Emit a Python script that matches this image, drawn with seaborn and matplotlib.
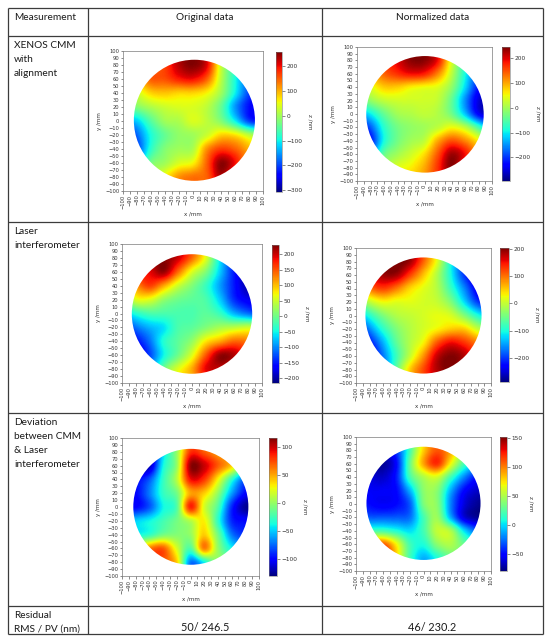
import numpy as np
import matplotlib
matplotlib.use("Agg")
import matplotlib.pyplot as plt
import seaborn as sns
from matplotlib.patches import Circle

# ---------------- data (nm), sampled on a 20 mm grid ----------------
grid_x = [-100, -80, -60, -40, -20, 0, 20, 40, 60, 80, 100]
grid_y = [100, 80, 60, 40, 20, 0, -20, -40, -60, -80, -100]

xenos_original = [
    [50, 100, 150, 180, 230, 250, 200, 30, -80, -150, -200],
    [50, 80, 130, 170, 230, 255, 210, 30, -80, -150, -200],
    [20, 80, 150, 160, 190, 200, 150, 20, -90, -180, -220],
    [-20, 30, 80, 90, 80, 80, 60, 0, -100, -200, -250],
    [-60, -20, 10, 30, 40, 40, 20, -40, -150, -230, -260],
    [-150, -120, -50, 0, 10, 40, 20, -20, -100, -200, -230],
    [-250, -180, -90, -40, -10, 0, 30, 80, 70, 20, -30],
    [-250, -200, -80, -20, 0, 10, 120, 170, 150, 100, 50],
    [-200, -150, -30, 0, 40, 60, 150, 250, 200, 100, 50],
    [-100, -50, 0, 60, 120, 140, 150, 230, 150, 80, 50],
    [-50, 0, 50, 80, 120, 130, 140, 180, 120, 60, 20],
]
xenos_normalized = [
    [60, 120, 170, 200, 240, 240, 180, 40, -80, -160, -220],
    [60, 110, 160, 200, 240, 240, 190, 40, -80, -160, -220],
    [30, 90, 140, 170, 190, 180, 120, 20, -90, -190, -240],
    [0, 40, 80, 80, 60, 50, 40, -10, -110, -220, -260],
    [-60, -10, 20, 30, 30, 30, 20, -40, -150, -250, -280],
    [-150, -100, -40, 0, 10, 20, 10, -30, -120, -230, -270],
    [-240, -180, -80, -30, -10, 0, 20, 50, 20, -60, -150],
    [-260, -220, -90, -30, 0, 20, 100, 150, 120, 60, 0],
    [-220, -160, -40, 0, 30, 70, 150, 230, 190, 100, 50],
    [-120, -60, 0, 40, 60, 100, 170, 240, 160, 80, 40],
    [-60, 0, 40, 60, 80, 110, 160, 200, 130, 60, 20],
]
laser_original = [
    [100, 150, 200, 220, 200, 150, 60, -80, -160, -200, -200],
    [100, 170, 210, 225, 200, 140, 60, -60, -150, -200, -200],
    [100, 170, 190, 220, 140, 60, 10, -70, -150, -200, -210],
    [60, 120, 160, 110, 50, 10, -30, -90, -150, -200, -210],
    [-20, 60, 60, 20, 0, -10, -20, -70, -140, -170, -180],
    [-80, -40, -20, -20, -20, -20, -10, -30, -80, -110, -130],
    [-160, -110, -80, -60, -20, -10, 10, 30, 40, 50, 40],
    [-200, -160, -110, -40, -10, 20, 80, 110, 140, 130, 100],
    [-220, -190, -130, -50, 0, 60, 150, 220, 210, 160, 120],
    [-220, -180, -100, 0, 60, 110, 190, 200, 170, 130, 100],
    [-200, -150, -60, 20, 80, 100, 140, 160, 140, 110, 90],
]
laser_normalized = [
    [100, 150, 190, 210, 190, 120, 20, -100, -200, -250, -280],
    [100, 160, 200, 210, 190, 110, 20, -100, -200, -260, -280],
    [80, 150, 190, 190, 130, 60, -10, -100, -200, -260, -280],
    [20, 100, 130, 100, 50, 20, -10, -80, -160, -240, -280],
    [-60, 0, 30, 20, 20, 10, 0, -40, -120, -200, -240],
    [-150, -90, -40, -10, 0, 10, 20, 10, -40, -100, -140],
    [-230, -160, -90, -40, -10, 10, 30, 50, 50, 0, -40],
    [-280, -220, -140, -60, -10, 30, 110, 150, 130, 90, 60],
    [-290, -260, -170, -80, 0, 80, 170, 200, 180, 120, 80],
    [-290, -250, -180, -60, 50, 120, 180, 200, 160, 110, 80],
    [-270, -230, -150, -40, 60, 110, 150, 160, 130, 90, 60],
]
deviation_original = [
    [-120, -120, -120, -60, -10, 60, 60, 40, 20, -20, -40],
    [-120, -120, -120, -50, 0, 80, 70, 50, 30, -20, -40],
    [-110, -120, -120, -40, 0, 110, 100, 70, 40, -20, -60],
    [-100, -100, -80, -30, 10, 90, 80, 30, -30, -80, -100],
    [-100, -100, -70, -30, -10, 50, 40, 0, -60, -100, -110],
    [-100, -100, -80, -40, -20, 85, 20, -20, -90, -125, -125],
    [-60, -50, -40, -25, -10, 10, 30, -30, -90, -100, -110],
    [-40, -40, -30, -10, -5, 0, 40, -10, -70, -90, -100],
    [20, 20, 60, 70, 20, -20, 60, 0, -40, -60, -60],
    [40, 50, 70, 70, 40, -70, -40, 0, -20, -40, -40],
    [40, 50, 70, 60, 40, -80, -60, 0, -20, -30, -30],
]
deviation_normalized = [
    [-60, -70, -70, -40, 20, 70, 100, 80, 40, 0, -20],
    [-60, -70, -70, -40, 20, 80, 110, 90, 40, 0, -20],
    [-60, -70, -75, -50, 30, 90, 120, 70, 20, -10, -30],
    [-50, -60, -65, -45, 20, 50, 60, 20, -20, -50, -60],
    [-50, -55, -55, -50, -10, 40, 40, -10, -50, -65, -70],
    [-40, -50, -55, -50, -30, 35, 40, -20, -60, -75, -80],
    [-20, -30, -30, -30, -25, 20, 45, -10, -60, -75, -80],
    [20, 20, 20, 10, 0, 20, 55, 50, 0, -30, -40],
    [80, 100, 110, 70, 20, 10, 40, 50, 30, 10, 0],
    [100, 130, 140, 80, 20, -10, 10, 30, 30, 10, 0],
    [100, 130, 140, 80, 20, -20, 0, 20, 20, 10, 0],
]

color_limits = {
    "xenos_original": (-307, 258),
    "xenos_normalized": (-295, 246),
    "laser_original": (-216, 230),
    "laser_normalized": (-287, 202),
    "deviation_original": (-131, 116),
    "deviation_normalized": (-80, 152),
}
colorbar_ticks = {
    "xenos_original": [-300, -200, -100, 0, 100, 200],
    "xenos_normalized": [-200, -100, 0, 100, 200],
    "laser_original": [-200, -150, -100, -50, 0, 50, 100, 150, 200],
    "laser_normalized": [-200, -100, 0, 100, 200],
    "deviation_original": [-100, -50, 0, 50, 100],
    "deviation_normalized": [-50, 0, 50, 100, 150],
}
axis_ticks = list(range(-100, 101, 10))

header_labels = ["Measurement", "Original data", "Normalized data"]
row_labels = ["XENOS CMM\nwith\nalignment", "Laser\ninterferometer",
              "Deviation\nbetween CMM\n& Laser\ninterferometer",
              "Residual\nRMS / PV (nm)"]
residual_labels = ["50/ 246.5", "46/ 230.2"]

# ---------------- layout (pixels) ----------------
W, H = 550, 643
sns.set_theme(style="white")
plt.rcParams["font.family"] = ["DejaVu Sans"]
plt.rcParams["axes.unicode_minus"] = True

fig = plt.figure(figsize=(W / 100, H / 100), dpi=100)
fig.patch.set_facecolor("white")


def frac(x0, y0, x1, y1):
    return [x0 / W, 1 - y1 / H, (x1 - x0) / W, (y1 - y0) / H]


bg = fig.add_axes([0, 0, 1, 1], zorder=-5)
bg.set_xlim(0, W)
bg.set_ylim(H, 0)
bg.axis("off")

line_kw = dict(color="#3c3c3c", lw=0.9, solid_capstyle="butt")
for yy in [8, 36, 222, 413, 606, 634]:
    bg.plot([8, 543], [yy, yy], **line_kw)
for xx in [8, 88, 322, 543]:
    bg.plot([xx, xx], [8, 634], **line_kw)

tfont = dict(family=["Lato", "DejaVu Sans"], fontsize=7.3, color="#1a1a1a")
bg.text(14, 20, header_labels[0], ha="left", va="baseline", **tfont)
bg.text(205, 20, header_labels[1], ha="center", va="baseline", **tfont)
bg.text(432.5, 20, header_labels[2], ha="center", va="baseline", **tfont)

row_tops = [36, 222, 413, 606]
for top, lab in zip(row_tops, row_labels):
    for i, line in enumerate(lab.split("\n")):
        bg.text(14, top + 12 + 14 * i, line, ha="left", va="baseline", **tfont)
bg.text(205, 631, residual_labels[0], ha="center", va="baseline",
        family=["Lato", "DejaVu Sans"], fontsize=7.8, color="#1a1a1a")
bg.text(432.5, 631, residual_labels[1], ha="center", va="baseline",
        family=["Lato", "DejaVu Sans"], fontsize=7.8, color="#1a1a1a")

panels = [
    ("xenos_original", xenos_original, (123, 51, 263, 191), (276, 52, 282, 192), (2, 1, 86.5)),
    ("xenos_normalized", xenos_normalized, (357, 47, 492, 181), (502, 47, 510, 181), (0.7, -0.5, 87)),
    ("laser_original", laser_original, (122, 244, 262, 383), (272, 245, 279, 383), (0, -0.7, 86)),
    ("laser_normalized", laser_normalized, (356, 248, 491, 383), (500, 248, 509, 382), (0, 0, 86)),
    ("deviation_original", deviation_original, (122, 438, 259, 576), (269, 438, 277, 576), (0.5, 0.3, 84)),
    ("deviation_normalized", deviation_normalized, (356, 437, 491, 571), (500, 437, 507, 571), (0, 1, 84.5)),
]

spine_col = "#7a7a7a"
for key, data, arect, crect, (cx, cy, r) in panels:
    ax = fig.add_axes(frac(*arect))
    vmin, vmax = color_limits[key]
    z = np.array(data, dtype=float)
    step = grid_x[1] - grid_x[0]
    ext = (grid_x[0] - step / 2, grid_x[-1] + step / 2,
           grid_y[-1] - step / 2, grid_y[0] + step / 2)
    im = ax.imshow(z, cmap="jet", vmin=vmin, vmax=vmax, extent=ext,
                   origin="upper", interpolation="catrom",
                   interpolation_stage="data", aspect="auto")
    im.set_clip_path(Circle((cx, cy), r, transform=ax.transData))
    ax.set_xlim(-100, 100)
    ax.set_ylim(-100, 100)
    ax.set_xticks(axis_ticks)
    ax.set_yticks(axis_ticks)
    ax.tick_params(axis="both", which="both", direction="out", length=1.8,
                   width=0.4, labelsize=3.7, pad=0.8, colors="#333333",
                   bottom=True, left=True)
    ax.tick_params(axis="x", labelrotation=90)
    for s in ax.spines.values():
        s.set_linewidth(0.5)
        s.set_color(spine_col)
    ax.set_xlabel("x /mm", fontsize=4, labelpad=2, color="#333333")
    ax.set_ylabel("y /mm", fontsize=4, labelpad=2, color="#333333")
    ax.set_facecolor("white")

    cax = fig.add_axes(frac(*crect))
    cb = fig.colorbar(im, cax=cax, ticks=colorbar_ticks[key])
    cb.outline.set_linewidth(0.4)
    cb.outline.set_edgecolor(spine_col)
    cax.tick_params(labelsize=4.2, length=1.8, width=0.4, pad=1.5, colors="#333333")
    cb.set_label("z /nm", fontsize=4, rotation=270, labelpad=7, color="#333333")

fig.savefig("out.png", dpi=100, facecolor="white")
